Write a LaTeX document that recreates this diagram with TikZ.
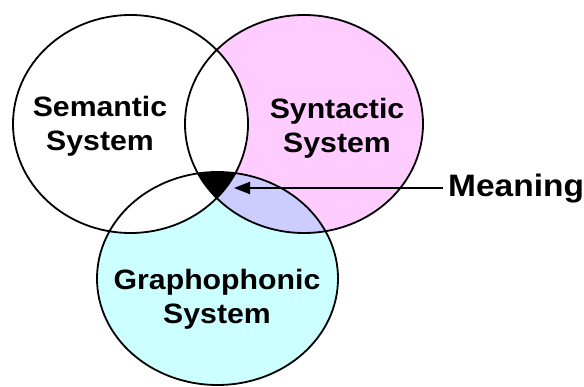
\documentclass[tikz,border=0pt]{standalone}
\usepackage{fontspec}
\setmainfont{Liberation Sans}[FakeStretch=1.08]
\usetikzlibrary{arrows.meta}
\definecolor{synpink}{RGB}{255,204,255}
\definecolor{grcyan}{RGB}{204,255,255}
\definecolor{lavend}{RGB}{204,204,255}
\tikzset{
  sysline/.style={line width=1.8pt, draw=black},
  syslabel/.style={font=\fontsize{28}{34}\selectfont\bfseries, align=center, inner sep=0pt, text=black},
  pointer/.style={line width=2pt, -{Triangle[length=16pt,width=12pt]}}
}
\def\semE{(130.5,124) ellipse [x radius=117.5pt, y radius=109pt]}
\def\synE{(304,124) ellipse [x radius=119pt, y radius=109pt]}
\def\graE{(217.5,278.5) ellipse [x radius=120.5pt, y radius=106.5pt]}
\begin{document}
\begin{tikzpicture}[x=1pt,y=-1pt]
\useasboundingbox (0,0) rectangle (584,387);
\fill[white] (0,0) rectangle (584,387);
% fills
\fill[grcyan] \graE;
\fill[synpink] \synE;
\begin{scope}
  \clip \synE;
  \fill[lavend] \graE;
\end{scope}
\fill[white] \semE;
\begin{scope}
  \clip \semE;
  \clip \synE;
  \fill[black] \graE;
\end{scope}
% outlines
\draw[sysline] \semE;
\draw[sysline] \synE;
\draw[sysline] \graE;
% labels
\node[syslabel] (sem) at (100,126) {Semantic\\System};
\node[syslabel] (syn) at (337,128) {Syntactic\\System};
\node[syslabel] (gra) at (217,299) {Graphophonic\\System};
\node[font=\fontsize{31}{36}\selectfont\bfseries, inner sep=0pt, anchor=base west] (mean) at (448,197) {Meaning};
\coordinate (tip) at (234,188);
\draw[pointer] ([xshift=-5pt]tip -| mean.west) -- (tip);
\end{tikzpicture}
\end{document}
